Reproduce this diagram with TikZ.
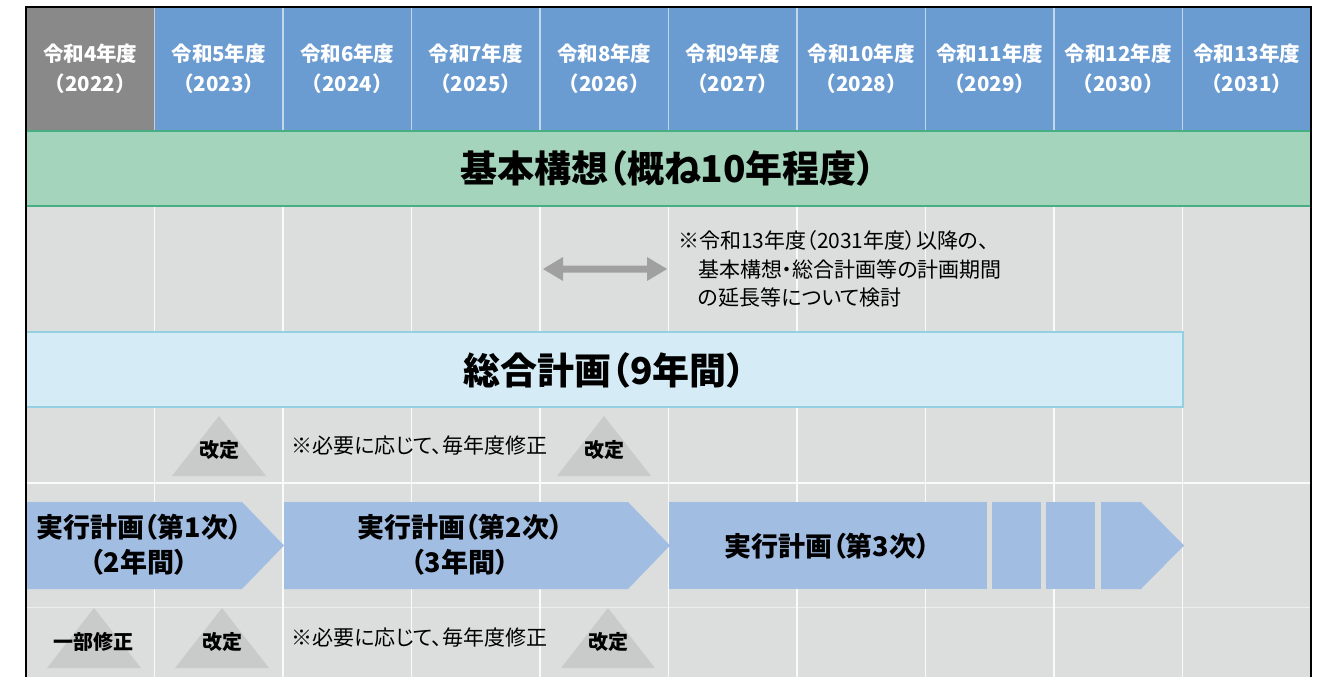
\documentclass[tikz,border=0pt]{standalone}
\usepackage{fontspec}
\setmainfont{Noto Sans CJK JP}
\newfontfamily\jpp{Noto Sans CJK JP}[RawFeature=+palt]
\definecolor{hdrblue}{HTML}{6A9BD1}
\definecolor{hdrgray}{HTML}{898989}
\definecolor{bandgreen}{HTML}{A4D4BC}
\definecolor{bandline}{HTML}{46B084}
\definecolor{bggray}{HTML}{DCDDDD}
\definecolor{lbfill}{HTML}{D5ECF6}
\definecolor{lbline}{HTML}{93D0E2}
\definecolor{chev}{HTML}{A2BDE2}
\definecolor{trig}{HTML}{C9CACA}
\definecolor{arrowgray}{HTML}{A0A0A0}
\begin{document}
\begin{tikzpicture}[x=1pt,y=-1pt,
  hdr/.style={text=white,font=\fontsize{20.5}{28}\selectfont\bfseries,align=center,inner sep=0pt},
  bigtitle/.style={font=\jpp\fontsize{37}{42}\selectfont\bfseries,inner sep=0pt},
  chevtext/.style={font=\jpp\fontsize{27}{35}\selectfont\bfseries,align=center,inner sep=0pt},
  marktext/.style={font=\jpp\fontsize{20}{24}\selectfont\bfseries,inner sep=0pt},
  notetext/.style={font=\jpp\fontsize{21}{28}\selectfont,inner sep=0pt,anchor=west},
  colline/.style={white!96!gray,line width=1.5pt},
  hdrline/.style={white,opacity=0.6,line width=1.5pt},
  chevshape/.style={fill=chev},
  trishape/.style={fill=trig}
]
\useasboundingbox (0,0) rectangle (1326,677);
\fill[white] (0,0) rectangle (1326,677);
% body background
\fill[bggray] (26,207) rectangle (1311,677);
% header cells
\fill[hdrgray] (26,7) rectangle (154.5,130);
\fill[hdrblue] (154.5,7) rectangle (1311,130);
\foreach \i in {1,...,9} {
  \draw[hdrline] ({26+128.5*\i},7) -- ({26+128.5*\i},130);
  \draw[colline] ({26+128.5*\i},207) -- ({26+128.5*\i},677);
}
% row lines
\draw[colline] (26,483) -- (1311,483);
\draw[white,opacity=0.5,line width=1pt] (26,607) -- (1311,607);
% header texts
\foreach \i/\r/\y in {0/4/2022,1/5/2023,2/6/2024,3/7/2025,4/8/2026,5/9/2027,6/10/2028,7/11/2029,8/12/2030,9/13/2031} {
  \node[hdr] (h\i) at ({90.25+128.5*\i},69) {令和\r 年度\\[2pt]（\y）};
}
% green band
\fill[bandgreen] (26,130) rectangle (1311,207);
\draw[bandline,line width=2.5pt] (26,131) -- (1311,131);
\draw[bandline,line width=2.5pt] (26,206) -- (1311,206);
\node[bigtitle] (kihon) at (668,168) {基本構想（概ね10年程度）};
% double arrow
\coordinate (al) at (543,269);
\coordinate (ar) at (667,269);
\fill[arrowgray] (al) -- (563,257) -- (563,265.5) -- (647,265.5) -- (647,257) -- (ar) -- (647,281) -- (647,272.5) -- (563,272.5) -- (563,281) -- cycle;
% note
\node[notetext] (note1) at (678,241) {※令和13年度（2031年度）以降の、};
\node[notetext] (note2) at (698,270) {基本構想・総合計画等の計画期間};
\node[notetext] (note3) at (698,298) {の延長等について検討};
% sogo keikaku box
\draw[fill=lbfill,draw=lbline,line width=2pt] (26,332) rectangle (1183,407);
\node[bigtitle] (sogo) at (604.5,370) {総合計画（9年間）};
% row 1 triangles
\fill[trishape] (172,476) -- (219,416) -- (266,476) -- cycle;
\fill[trishape] (557,476) -- (604,416) -- (651,476) -- cycle;
\node[marktext] (k1) at (219,450) {改定};
\node[marktext] (k2) at (604,450) {改定};
\node[notetext] (n1) at (291,446) {※必要に応じて、毎年度修正};
% chevrons
\fill[chevshape] (26,502) -- (242,502) -- (284,545.5) -- (242,589) -- (26,589) -- cycle;
\fill[chevshape] (284,502) -- (628,502) -- (670,545.5) -- (628,589) -- (284,589) -- cycle;
\fill[chevshape] (669,502) rectangle (987,589);
\fill[chevshape] (992,502) rectangle (1041,589);
\fill[chevshape] (1046,502) rectangle (1095,589);
\fill[chevshape] (1101,502) -- (1141,502) -- (1184,545.5) -- (1141,589) -- (1101,589) -- cycle;
\node[chevtext] (j1) at (139,545) {実行計画（第1次）\\（2年間）};
\node[chevtext] (j2) at (460,545) {実行計画（第2次）\\（3年間）};
\node[chevtext] (j3) at (827,546) {実行計画（第3次）};
% row 2 triangles
\fill[trishape] (47,668) -- (94,608) -- (141,668) -- cycle;
\fill[trishape] (175,668) -- (222,608) -- (269,668) -- cycle;
\fill[trishape] (561,668) -- (608,608) -- (655,668) -- cycle;
\node[marktext] (b1) at (93,642) {一部修正};
\node[marktext] (b2) at (222,642) {改定};
\node[marktext] (b3) at (608,642) {改定};
\node[notetext] (n2) at (291,638) {※必要に応じて、毎年度修正};
% frame
\draw[black,line width=2pt] (26,677) -- (26,7) -- (1311,7) -- (1311,677);
\end{tikzpicture}
\end{document}
